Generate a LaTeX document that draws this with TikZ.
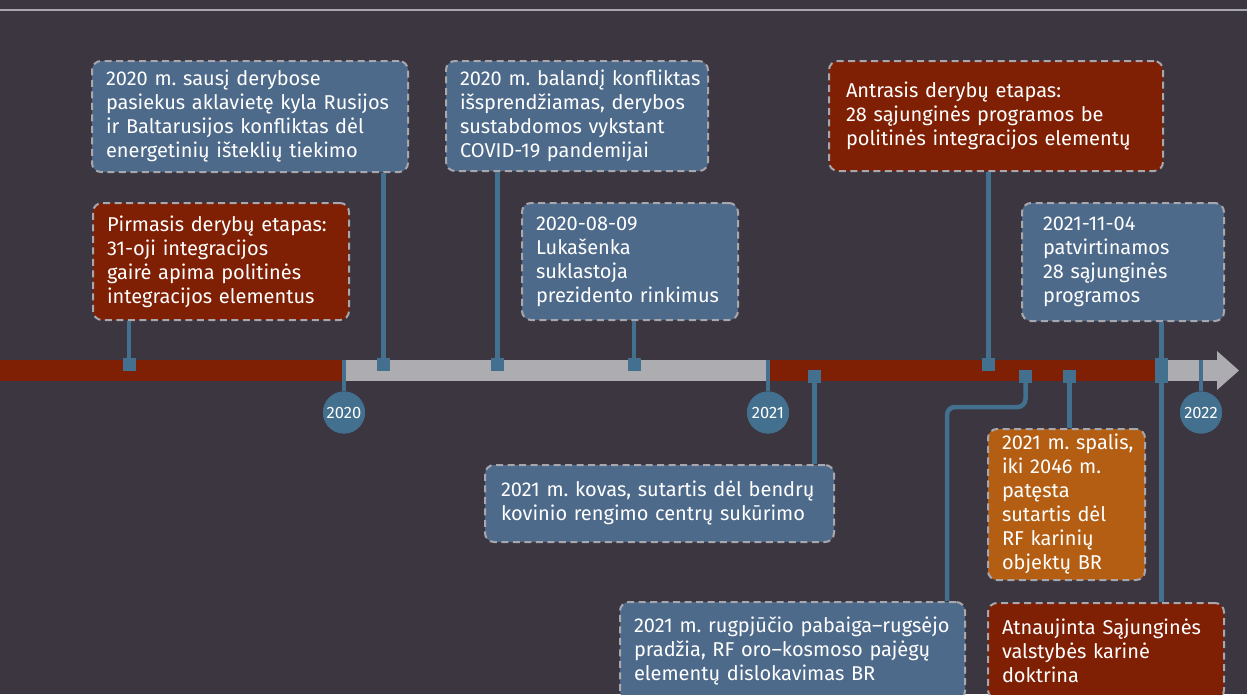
\documentclass[tikz,border=0pt]{standalone}
\usepackage{fontspec}
\setmainfont{Fira Sans}
\usetikzlibrary{calc}

\definecolor{bgcol}{HTML}{3B3640}
\definecolor{boxblue}{HTML}{4E6A8A}
\definecolor{boxred}{HTML}{7F1F03}
\definecolor{boxorange}{HTML}{B35E12}
\definecolor{bargray}{HTML}{ADACB1}
\definecolor{linkblue}{HTML}{44708F}
\definecolor{dashgray}{HTML}{A8A7AD}

\begin{document}
\frenchspacing
\begin{tikzpicture}[x=1pt,y=-1pt,
	event/.style={draw=dashgray,line width=2pt,dash pattern=on 7pt off 4.5pt,rounded corners=9pt,
		anchor=north west,align=left,text=white,inner xsep=0pt,inner ysep=0pt,pad=14pt,
		font=\fontsize{20}{24}\selectfont},
	pad/.style={execute at begin node={\leftskip=#1\relax}},
	blue/.style={event,fill=boxblue},
	red/.style={event,fill=boxred},
	orange/.style={event,fill=boxorange},
	link/.style={draw=linkblue,line width=4.5pt},
	sqmark/.style={fill=linkblue,minimum size=13pt,inner sep=0pt},
	yearball/.style={circle,fill=linkblue,minimum size=42pt,inner sep=0pt,text=white,
		font=\fontsize{16.5}{16.5}\selectfont}]
	\useasboundingbox (0,0) rectangle (1247,694);
	\clip (0,0) rectangle (1247,694);
	\fill[bgcol] (0,0) rectangle (1247,694);
	\draw[dashgray,line width=2.5pt] (0,10) -- (1247,10);
	% time bar
	\fill[boxred] (0,360) rectangle (344,381);
	\fill[bargray] (344,360) rectangle (768,381);
	\fill[boxred] (768,360) rectangle (1161,381);
	\fill[bargray] (1161,360) rectangle (1217,381);
	\fill[bargray] (1217,351) -- (1239,370.5) -- (1217,390) -- cycle;
	\coordinate (bartop) at (0,360);
	% events
	\node[blue,text width=316pt,minimum height=111pt] (b1) at (91,60)
		{2020 m. sausį derybose\\pasiekus aklavietę kyla Rusijos\\ir Baltarusijos konfliktas dėl\\energetinių išteklių tiekimo};
	\node[blue,text width=262pt,minimum height=110pt] (b2) at (445,60)
		{2020 m. balandį konfliktas\\išsprendžiamas, derybos\\sustabdomos vykstant\\COVID-19 pandemijai};
	\node[red,text width=334pt,minimum height=110pt,pad=17pt] (b3) at (828,60)
		{Antrasis derybų etapas:\\28 sąjunginės programos be\\politinės integracijos elementų};
	\node[red,text width=256pt,minimum height=117pt] (b4) at (92,202)
		{Pirmasis derybų etapas:\\31-oji integracijos\\gairė apima politinės\\integracijos elementus};
	\node[blue,text width=216pt,minimum height=117pt] (b5) at (521,202)
		{2020-08-09\\Lukašenka\\suklastoja\\prezidento rinkimus};
	\node[blue,text width=202pt,minimum height=118pt,pad=21pt] (b6) at (1021,202)
		{2021-11-04\\patvirtinamos\\28 sąjunginės\\programos};
	\node[blue,text width=349pt,minimum height=77pt,pad=16pt] (b7) at (484,464)
		{2021 m. kovas, sutartis dėl bendrų\\kovinio rengimo centrų sukūrimo};
	\node[blue,text width=345pt,minimum height=98pt] (b8) at (619,601)
		{2021 m. rugpjūčio pabaiga–rugsėjo\\pradžia, RF oro–kosmoso pajėgų\\elementų dislokavimas BR};
	\node[orange,text width=157pt,minimum height=151pt] (b9) at (987,428)
		{2021 m. spalis,\\iki 2046 m.\\patęsta\\sutartis dėl\\RF karinių\\objektų BR};
	\node[red,text width=236pt,minimum height=96pt] (b10) at (987,602)
		{Atnaujinta Sąjunginės\\valstybės karinė\\doktrina};
	% markers on the bar
	\coordinate (m1) at (129,364.5);
	\coordinate (m2) at (383.5,364.5);
	\coordinate (m3) at (497.5,364.5);
	\coordinate (m4) at (634,364.5);
	\coordinate (m5) at (988.5,364.5);
	\coordinate (m6) at (1161.5,370.5);
	\coordinate (m7) at (814.5,376.5);
	\coordinate (m8) at (1025.5,376.5);
	\coordinate (m9) at (1069.5,376.5);
	\draw[link] (m1) -- (m1 |- b4.south);
	\draw[link] (m2) -- (m2 |- b1.south);
	\draw[link] (m3) -- (m3 |- b2.south);
	\draw[link] (m4) -- (m4 |- b5.south);
	\draw[link] (m5) -- (m5 |- b3.south);
	\draw[link] (m6 |- b6.south) -- (m6 |- b10.north);
	\draw[link] (m7) -- (m7 |- b7.north);
	\draw[link,rounded corners=8pt] (m8) -- ++(0,30.5) -| ([xshift=-19pt]b8.north east);
	\draw[link] (m9) -- (m9 |- b9.north);
	\foreach \m in {m1,m2,m3,m4,m5,m7,m8,m9}
		\node[sqmark] at (\m) {};
	\node[sqmark,minimum height=25pt] at (m6) {};
	% years
	\node[yearball] (y20) at (344,412.5) {2020};
	\node[yearball] (y21) at (768,412.5) {2021};
	\node[yearball] (y22) at (1201,412.5) {2022};
	\foreach \y in {y20,y21,y22}
		\draw[link] (\y) -- (\y |- bartop);
	\node[yearball] at (y20) {2020};
	\node[yearball] at (y21) {2021};
	\node[yearball] at (y22) {2022};
\end{tikzpicture}
\end{document}
